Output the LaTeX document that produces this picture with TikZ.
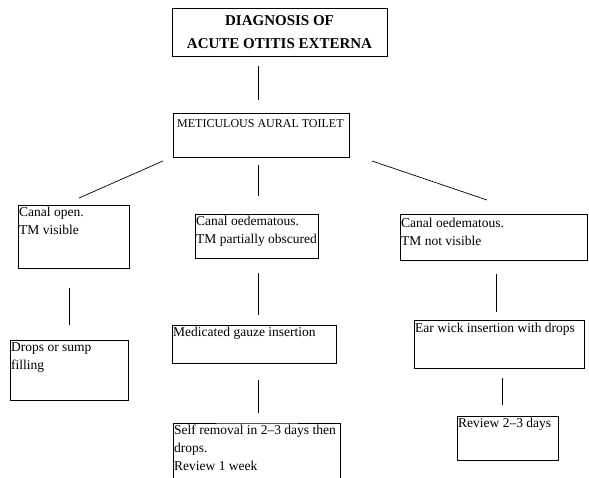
\documentclass[tikz,border=0pt]{standalone}
\usepackage{fontspec}
\setmainfont{Liberation Serif}
\begin{document}
\begin{tikzpicture}[x=1pt,y=-1pt,
  boxst/.style={draw, line width=0.7pt, rectangle, anchor=north west, inner sep=0pt},
  openbox/.style={rectangle, anchor=north west, inner sep=0pt},
  txt/.style={anchor=north west, inner sep=0pt, align=left, font=\fontsize{13.5}{18}\selectfont},
  conn/.style={line width=0.7pt}]
\useasboundingbox (0,0) rectangle (589,478);
% title
\node[draw, line width=0.8pt, minimum width=215pt, minimum height=48pt, inner sep=0pt,
  align=center, font=\fontsize{15}{23}\bfseries\selectfont] (title) at (279.5,32)
  {DIAGNOSIS OF\\ACUTE OTITIS EXTERNA};
% level 1
\node[boxst, minimum width=176pt, minimum height=44pt] (met) at (173,113) {};
\node[txt, font=\fontsize{12}{16}\selectfont] (mett) at (177,119) {METICULOUS AURAL TOILET};
% level 2
\node[boxst, minimum width=111pt, minimum height=63pt] (b1) at (18,205) {};
\node[txt] (b1t) at (19,207) {Canal open.\\TM visible};
\node[boxst, minimum width=123pt, minimum height=44pt] (b2) at (195,214) {};
\node[txt] (b2t) at (196,216) {Canal oedematous.\\TM partially obscured};
\node[boxst, minimum width=187pt, minimum height=46pt] (b3) at (400,214) {};
\node[txt] (b3t) at (401,218) {Canal oedematous.\\TM not visible};
% level 3
\node[boxst, minimum width=118pt, minimum height=60pt] (b4) at (10,340) {};
\node[txt] (b4t) at (11,342) {Drops or sump\\filling};
\node[boxst, minimum width=164pt, minimum height=38pt] (b5) at (172,325) {};
\node[txt] (b5t) at (173,327) {Medicated gauze insertion};
\node[boxst, minimum width=170pt, minimum height=48pt] (b6) at (414,320) {};
\node[txt] (b6t) at (415,323) {Ear wick insertion with drops};
% level 4
\node[openbox, minimum width=167pt, minimum height=55pt] (b7) at (173,423) {};
\draw[conn] (b7.south west) |- (b7.north) -| (b7.south east);
\node[txt] (b7t) at (174,425) {Self removal in 2--3 days then\\drops.\\Review 1 week};
\node[boxst, minimum width=101pt, minimum height=44pt] (b8) at (457,416) {};
\node[txt] (b8t) at (458,418) {Review 2--3 days};
% connector end points
\coordinate (c0a) at (258,66);  \coordinate (c0b) at (258,100);
\coordinate (c1a) at (163,161); \coordinate (c1b) at (79,198);
\coordinate (c2a) at (258,165); \coordinate (c2b) at (258,196);
\coordinate (c3a) at (372,161); \coordinate (c3b) at (487,200);
\coordinate (c4a) at (69,288);  \coordinate (c4b) at (69,325);
\coordinate (c5a) at (258,273); \coordinate (c5b) at (258,315);
\coordinate (c6a) at (496,274); \coordinate (c6b) at (496,312);
\coordinate (c7a) at (258,380); \coordinate (c7b) at (258,413);
\coordinate (c8a) at (502,378); \coordinate (c8b) at (502,405);
\draw[conn] (c0a) -- (c0b);
\draw[conn] (c1a) -- (c1b);
\draw[conn] (c2a) -- (c2b);
\draw[conn] (c3a) -- (c3b);
\draw[conn] (c4a) -- (c4b);
\draw[conn] (c5a) -- (c5b);
\draw[conn] (c6a) -- (c6b);
\draw[conn] (c7a) -- (c7b);
\draw[conn] (c8a) -- (c8b);
\end{tikzpicture}
\end{document}
